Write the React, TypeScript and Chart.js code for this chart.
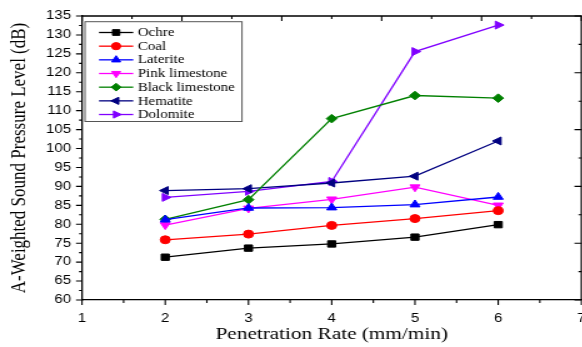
import React, { useEffect, useRef } from 'react';
import { Chart, registerables } from 'chart.js';
import { drawPoint } from 'chart.js/helpers';

Chart.register(...registerables);

// ---- data ----
const xValues = [2, 3, 4, 5, 6];
const seriesNames = ['Ochre', 'Coal', 'Laterite', 'Pink limestone', 'Black limestone', 'Hematite', 'Dolomite'];
const ochre = [71.3, 73.7, 74.8, 76.6, 79.9];
const coal = [75.9, 77.4, 79.7, 81.5, 83.6];
const laterite = [81.2, 84.3, 84.4, 85.2, 87.2];
const pinkLimestone = [79.8, 84.2, 86.6, 89.8, 85.0];
const blackLimestone = [81.3, 86.5, 107.9, 114.0, 113.3];
const hematite = [88.9, 89.4, 90.9, 92.7, 102.0];
const dolomite = [87.1, 88.7, 91.3, 125.6, 132.6];
const seriesValues = [ochre, coal, laterite, pinkLimestone, blackLimestone, hematite, dolomite];

const seriesColors = ['#000000', '#ff0000', '#0000ff', '#ff00ff', '#008000', '#000080', '#8000ff'];
const markerStyles = ['rect', 'circle', 'triangle', 'triangle', 'rectRot', 'triangle', 'triangle'];
const markerRotations = [0, 0, 0, 180, 0, -90, 90];
const markerRadii = [4.5, 4, 4.6, 4.6, 4.3, 4.6, 4.6];

const xMin = 1;
const xMax = 7;
const xStep = 1;
const yMin = 60;
const yMax = 135;
const yStep = 5;
const xTitle = 'Penetration Rate (mm/min)';
const yTitle = 'A-Weighted Sound Pressure Level (dB)';

const SANS = '"Liberation Sans", Arial, sans-serif';
const SERIF = '"Liberation Serif", "Times New Roman", serif';

const framePlugin = {
  id: 'frameTicks',
  afterDraw(chart: any) {
    const { ctx, chartArea: a, scales } = chart;
    ctx.save();
    ctx.strokeStyle = '#000';
    ctx.lineWidth = 1.3;
    ctx.beginPath();
    ctx.moveTo(a.left, a.top);
    ctx.lineTo(a.right, a.top);
    ctx.lineTo(a.right, a.bottom);
    ctx.stroke();

    ctx.lineWidth = 1.1;
    ctx.beginPath();
    // left axis ticks (outward)
    for (let v = yMin; v <= yMax + 1e-6; v += yStep / 2) {
      const p = scales.y.getPixelForValue(v);
      const major = Math.abs(v / yStep - Math.round(v / yStep)) < 1e-6;
      const len = major ? 4.8 : 2.4;
      ctx.moveTo(a.left - len, p);
      ctx.lineTo(a.left, p);
    }
    // bottom axis ticks (outward)
    for (let v = xMin; v <= xMax + 1e-6; v += xStep / 2) {
      const p = scales.x.getPixelForValue(v);
      const major = Math.abs(v / xStep - Math.round(v / xStep)) < 1e-6;
      const len = major ? 5 : 3;
      ctx.moveTo(p, a.bottom);
      ctx.lineTo(p, a.bottom + len);
    }
    // top axis ticks (inward)
    const w = a.right - a.left;
    const h = a.bottom - a.top;
    for (let i = 0; i <= 10; i++) {
      const x = a.left + (i * w) / 10;
      const len = i % 2 === 0 ? 5 : 3;
      ctx.moveTo(x, a.top);
      ctx.lineTo(x, a.top + len);
    }
    // right axis ticks (inward)
    for (let i = 0; i <= 10; i++) {
      const y = a.top + (i * h) / 10;
      const len = i % 2 === 0 ? 5.6 : 2.4;
      ctx.moveTo(a.right, y);
      ctx.lineTo(a.right - len, y);
    }
    ctx.stroke();

    // legend box
    const bx = 68;
    const by = 21.7;
    const bw = 125.6;
    const bh = 99.8;
    ctx.fillStyle = '#ffffff';
    ctx.fillRect(bx, by, bw, bh);
    ctx.strokeStyle = '#555';
    ctx.lineWidth = 1;
    ctx.strokeRect(bx, by, bw, bh);
    ctx.font = `12px ${SERIF}`;
    ctx.textBaseline = 'middle';
    ctx.textAlign = 'left';
    seriesNames.forEach((name, i) => {
      const y = 32.5 + i * 13.67;
      ctx.strokeStyle = seriesColors[i];
      ctx.fillStyle = seriesColors[i];
      ctx.lineWidth = 1.3;
      ctx.beginPath();
      ctx.moveTo(79.2, y);
      ctx.lineTo(106.6, y);
      ctx.stroke();
      ctx.lineWidth = 1;
      drawPoint(ctx, {
        pointStyle: markerStyles[i],
        rotation: markerRotations[i],
        radius: markerRadii[i] * 0.9,
        borderWidth: 1,
      } as any, 92.9, y);
      ctx.fillStyle = '#000';
      ctx.fillText(name, 110.2, y + 0.5);
    });
    ctx.restore();
  },
};

export default function App() {
  const ref = useRef<HTMLCanvasElement | null>(null);

  useEffect(() => {
    if (!ref.current) return;
    const datasets = seriesNames.map((name, i) => ({
      label: name,
      data: xValues.map((x, j) => ({ x, y: seriesValues[i][j] })),
      borderColor: seriesColors[i],
      backgroundColor: seriesColors[i],
      pointBackgroundColor: seriesColors[i],
      pointBorderColor: seriesColors[i],
      pointStyle: markerStyles[i],
      pointRotation: markerRotations[i],
      pointRadius: markerRadii[i],
      pointBorderWidth: 1,
      borderWidth: 1.3,
      tension: 0,
      fill: false,
      clip: false,
    }));

    const chart = new Chart(ref.current, {
      type: 'line',
      data: { datasets },
      options: {
        animation: false,
        responsive: false,
        devicePixelRatio: 1,
        layout: { padding: { left: 0, top: 14, right: 13.6, bottom: 0 } },
        plugins: { legend: { display: false }, tooltip: { enabled: false } },
        scales: {
          x: {
            type: 'linear',
            min: xMin,
            max: xMax,
            ticks: { stepSize: xStep, color: '#000', font: { family: SANS, size: 12 }, padding: 11.5 },
            grid: { display: false, drawTicks: false },
            border: { display: true, color: '#000', width: 1.3 },
            title: {
              display: true,
              text: xTitle,
              color: '#000',
              font: { family: SERIF, size: 17 },
              padding: { top: 0, bottom: 2.2 },
            },
            afterFit(s: any) {
              s.height = 47;
            },
          },
          y: {
            type: 'linear',
            min: yMin,
            max: yMax,
            ticks: { stepSize: yStep, color: '#000', font: { family: SANS, size: 12 }, padding: 8.8 },
            grid: { display: false, drawTicks: false },
            border: { display: true, color: '#000', width: 1.3 },
            title: {
              display: true,
              text: yTitle,
              color: '#000',
              font: { family: SERIF, size: 17 },
              padding: { top: 5, bottom: 0 },
            },
            afterFit(s: any) {
              s.width = 65.6;
            },
          },
        },
      } as any,
      plugins: [framePlugin],
    });
    return () => chart.destroy();
  }, []);

  return (
    <div style={{ position: 'absolute', left: 0, top: 0, width: 582, height: 347, overflow: 'hidden', background: '#fff' }}>
      <canvas ref={ref} width={480} height={347} style={{ width: '600px', height: '347px', display: 'block' }} />
    </div>
  );
}
